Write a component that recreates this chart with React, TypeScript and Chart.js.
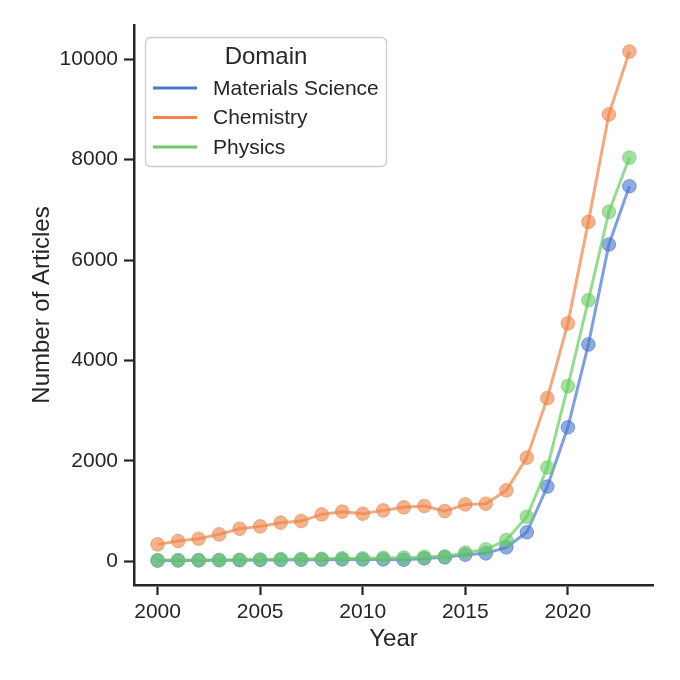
import React, { useEffect, useRef } from "react";
import { Chart, registerables } from "chart.js";

Chart.register(...registerables);

const years = [2000, 2001, 2002, 2003, 2004, 2005, 2006, 2007, 2008, 2009, 2010, 2011, 2012, 2013, 2014, 2015, 2016, 2017, 2018, 2019, 2020, 2021, 2022, 2023];
const materialsScience = [15, 18, 20, 22, 25, 28, 30, 32, 35, 40, 38, 40, 33, 60, 80, 133, 160, 280, 580, 1490, 2670, 4320, 6310, 7470];
const chemistry = [339, 404, 452, 538, 651, 697, 771, 803, 936, 990, 950, 1016, 1076, 1102, 1002, 1135, 1149, 1414, 2066, 3250, 4740, 6760, 8900, 10150];
const physics = [25, 26, 26, 27, 30, 38, 45, 48, 52, 64, 60, 72, 75, 92, 100, 175, 240, 424, 890, 1870, 3490, 5200, 6960, 8040];
const domainNames = ["Materials Science", "Chemistry", "Physics"];
const domainColors = ["#4878d0", "#ee854a", "#6acc64"];
const xTicks = [2000, 2005, 2010, 2015, 2020];
const yTicks = [0, 2000, 4000, 6000, 8000, 10000];

const FONT = "'Liberation Sans', Arial, sans-serif";
const TEXT = "#262626";

function rgba(hex: string, a: number) {
  const n = parseInt(hex.slice(1), 16);
  return `rgba(${(n >> 16) & 255},${(n >> 8) & 255},${n & 255},${a})`;
}

const legendPlugin = {
  id: "boxLegend",
  afterDraw(chart: any) {
    const ctx = chart.ctx;
    const x = 145.5, y = 37.5, w = 241, h = 129, r = 5;
    ctx.save();
    ctx.beginPath();
    ctx.moveTo(x + r, y);
    ctx.arcTo(x + w, y, x + w, y + h, r);
    ctx.arcTo(x + w, y + h, x, y + h, r);
    ctx.arcTo(x, y + h, x, y, r);
    ctx.arcTo(x, y, x + w, y, r);
    ctx.closePath();
    ctx.fillStyle = "rgba(255,255,255,0.8)";
    ctx.fill();
    ctx.strokeStyle = "#cccccc";
    ctx.lineWidth = 1.3;
    ctx.stroke();

    ctx.fillStyle = TEXT;
    ctx.textBaseline = "middle";
    ctx.textAlign = "center";
    ctx.font = `24px ${FONT}`;
    ctx.fillText("Domain", 266, 57);

    ctx.textAlign = "left";
    ctx.font = `21px ${FONT}`;
    const ds = chart.data.datasets;
    ds.forEach((d: any, i: number) => {
      const yy = 88 + i * 29.5;
      ctx.strokeStyle = d.legendColor;
      ctx.lineWidth = 3;
      ctx.beginPath();
      ctx.moveTo(153, yy);
      ctx.lineTo(197, yy);
      ctx.stroke();
      ctx.fillStyle = TEXT;
      ctx.fillText(d.label, 213, yy + 1);
    });
    ctx.restore();
  },
};

export default function App() {
  const ref = useRef<HTMLCanvasElement>(null);
  useEffect(() => {
    const series = [materialsScience, chemistry, physics];
    const orders = [2, 1, 0];
    const chart = new Chart(ref.current as HTMLCanvasElement, {
      type: "line",
      data: {
        datasets: series.map((vals, i) => ({
          label: domainNames[i],
          legendColor: domainColors[i],
          data: years.map((yr, j) => ({ x: yr, y: vals[j] })),
          borderColor: rgba(domainColors[i], 0.7),
          borderWidth: 3,
          pointRadius: 6.8,
          pointBackgroundColor: rgba(domainColors[i], 0.62),
          pointBorderColor: rgba(domainColors[i], 0.62),
          pointBorderWidth: 1,
          tension: 0,
          order: orders[i],
        })) as any,
      },
      options: {
        animation: false,
        responsive: false,
        devicePixelRatio: 1,
        layout: { padding: { top: 25, right: 27, left: 0, bottom: 0 } },
        plugins: { legend: { display: false }, tooltip: { enabled: false } },
        scales: {
          x: {
            type: "linear",
            min: 1998.85,
            max: 2024.15,
            afterBuildTicks: (s: any) => { s.ticks = xTicks.map((v) => ({ value: v })); },
            afterFit: (s: any) => { s.height = 95; },
            grid: { display: true, drawOnChartArea: false, drawTicks: true, tickLength: 10, tickWidth: 2.2, tickColor: TEXT },
            border: { display: true, color: TEXT, width: 2.5 },
            ticks: { color: TEXT, font: { family: FONT, size: 21 }, padding: 5, callback: (v: any) => String(v), maxRotation: 0 },
            title: { display: true, text: "Year", color: TEXT, font: { family: FONT, size: 24 }, padding: { top: 0, bottom: 26 } },
          },
          y: {
            type: "linear",
            min: -470,
            max: 10680,
            afterBuildTicks: (s: any) => { s.ticks = yTicks.map((v) => ({ value: v })); },
            afterFit: (s: any) => { s.width = 134; },
            grid: { display: true, drawOnChartArea: false, drawTicks: true, tickLength: 10, tickWidth: 2.2, tickColor: TEXT },
            border: { display: true, color: TEXT, width: 2.5 },
            ticks: { color: TEXT, font: { family: FONT, size: 21 }, padding: 6, callback: (v: any) => String(v) },
            title: { display: true, text: "Number of Articles", color: TEXT, font: { family: FONT, size: 24 }, padding: { top: 28, bottom: 0 } },
          },
        },
      },
      plugins: [legendPlugin],
    });
    return () => chart.destroy();
  }, []);
  return (
    <div style={{ position: "fixed", left: 0, top: 0, width: 680, height: 680, background: "#fff" }}>
      <canvas ref={ref} width={680} height={680} style={{ width: 680, height: 680, display: "block" }} />
    </div>
  );
}
